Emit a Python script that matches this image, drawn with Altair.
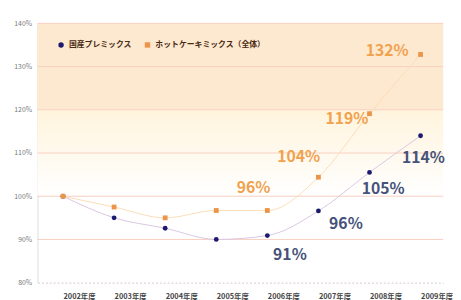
import altair as alt
import pandas as pd

years = [2002, 2003, 2004, 2005, 2006, 2007, 2008, 2009]
premix = [100, 95, 92.6, 90, 90.9, 96.6, 105.5, 114]
hotcake = [100, 97.5, 95, 96.7, 96.7, 104.4, 119.1, 132.8]
series_names = ["国産プレミックス", "ホットケーキミックス（全体）"]

premix_labels = {2006: "91%", 2007: "96%", 2008: "105%", 2009: "114%"}
hotcake_labels = {2006: "96%", 2007: "104%", 2008: "119%", 2009: "132%"}

grid_values = [90, 100, 110, 120, 130, 140]
x_ticks = years

FONT = "Noto Sans CJK JP"
NAVY = "#1c1a6e"
ORANGE = "#ec9448"

rows = []
for y, p, h in zip(years, premix, hotcake):
    rows.append({"year": y, "value": p, "series": series_names[0]})
    rows.append({"year": y, "value": h, "series": series_names[1]})
df = pd.DataFrame(rows)

xscale = alt.Scale(domain=[2001.5, 2001.5 + 413 / 52], nice=False, zero=False)
yscale = alt.Scale(domain=[80, 140], nice=False, zero=False)

x_enc = alt.X("year:Q", scale=xscale, axis=alt.Axis(
    values=x_ticks, labelExpr="datum.value + '年度'", grid=False, ticks=False,
    domain=True, domainColor="#e6dcdc", domainDash=[2, 2], domainWidth=1.5,
    labelFont=FONT, labelFontSize=7.5, labelColor="#444444", labelAlign="left",
    labelPadding=10, labelFontWeight="bold", title=None))
y_enc = alt.Y("value:Q", scale=yscale, axis=alt.Axis(
    values=[80, 90, 100, 110, 120, 130, 140], labelExpr="datum.value + '%'",
    grid=False, ticks=False, domain=True, domainColor="#dddddd",
    labelFont=FONT, labelFontSize=7, labelColor="#777777", labelPadding=6, title=None))

bands = pd.DataFrame({"lo": [120, 100], "hi": [140, 120], "k": ["a", "b"]})
band_top = alt.Chart(bands[bands.k == "a"]).mark_rect(color="#fde9d0").encode(
    y=alt.Y("lo:Q", scale=yscale), y2="hi:Q")
band_mid = alt.Chart(bands[bands.k == "b"]).mark_rect(
    color=alt.Gradient(gradient="linear", stops=[
        alt.GradientStop(color="#fff4dd", offset=0),
        alt.GradientStop(color="#ffffff", offset=1)], x1=0, x2=0, y1=0, y2=1)
).encode(y=alt.Y("lo:Q", scale=yscale), y2="hi:Q")

grid = alt.Chart(pd.DataFrame({"g": grid_values})).mark_rule(
    color="#f9cfc0", strokeWidth=1).encode(y=alt.Y("g:Q", scale=yscale))

color_scale = alt.Scale(domain=series_names, range=[NAVY, ORANGE])

line_p = alt.Chart(df[df.series == series_names[0]]).mark_line(
    color="#d9c6e2", strokeWidth=1, interpolate="monotone").encode(x=x_enc, y=y_enc)
line_h = alt.Chart(df[df.series == series_names[1]]).mark_line(
    color="#fbdcb6", strokeWidth=1, interpolate="monotone").encode(x=x_enc, y=y_enc)

points = alt.Chart(df).mark_point(filled=True, opacity=1).encode(
    x=x_enc, y=y_enc,
    color=alt.Color("series:N", scale=color_scale, sort=series_names, legend=alt.Legend(
        orient="none", legendX=20, legendY=18, direction="horizontal", title=None,
        labelFont=FONT, labelFontSize=8, labelColor="#4a2a10", labelFontWeight="bold",
        columnPadding=12, symbolSize=30, labelOffset=4)),
    shape=alt.Shape("series:N", scale=alt.Scale(domain=series_names, range=["circle", "square"]),
                    sort=series_names, legend=None),
    size=alt.value(24),
)

label_layers = []
p_offsets = {2006: (23, 20), 2007: (28, 13), 2008: (14, 17), 2009: (3, 23)}
h_offsets = {2006: (-14, -23), 2007: (-20, -20), 2008: (-23, 5), 2009: (-34, -3)}
for yr, txt in premix_labels.items():
    d = pd.DataFrame({"year": [yr], "value": [premix[years.index(yr)]], "t": [txt]})
    dx, dy = p_offsets[yr]
    label_layers.append(alt.Chart(d).mark_text(
        font=FONT, fontSize=16, color="#46527a", dx=dx, dy=dy, fontWeight="bold").encode(
        x=x_enc, y=y_enc, text="t:N"))
for yr, txt in hotcake_labels.items():
    d = pd.DataFrame({"year": [yr], "value": [hotcake[years.index(yr)]], "t": [txt]})
    dx, dy = h_offsets[yr]
    label_layers.append(alt.Chart(d).mark_text(
        font=FONT, fontSize=16, color="#f0a24e", dx=dx, dy=dy, fontWeight="bold").encode(
        x=x_enc, y=y_enc, text="t:N"))

chart = alt.layer(band_top, band_mid, grid, line_p, line_h, points, *label_layers).properties(
    width=413, height=264,
    padding={"left": 30, "top": 13, "right": 10, "bottom": 15},
    autosize=alt.AutoSizeParams(type="none"),
    background="#ffffff",
).configure_view(stroke=None)

chart.save("out.html", embed_options={"renderer": "svg", "actions": False})
